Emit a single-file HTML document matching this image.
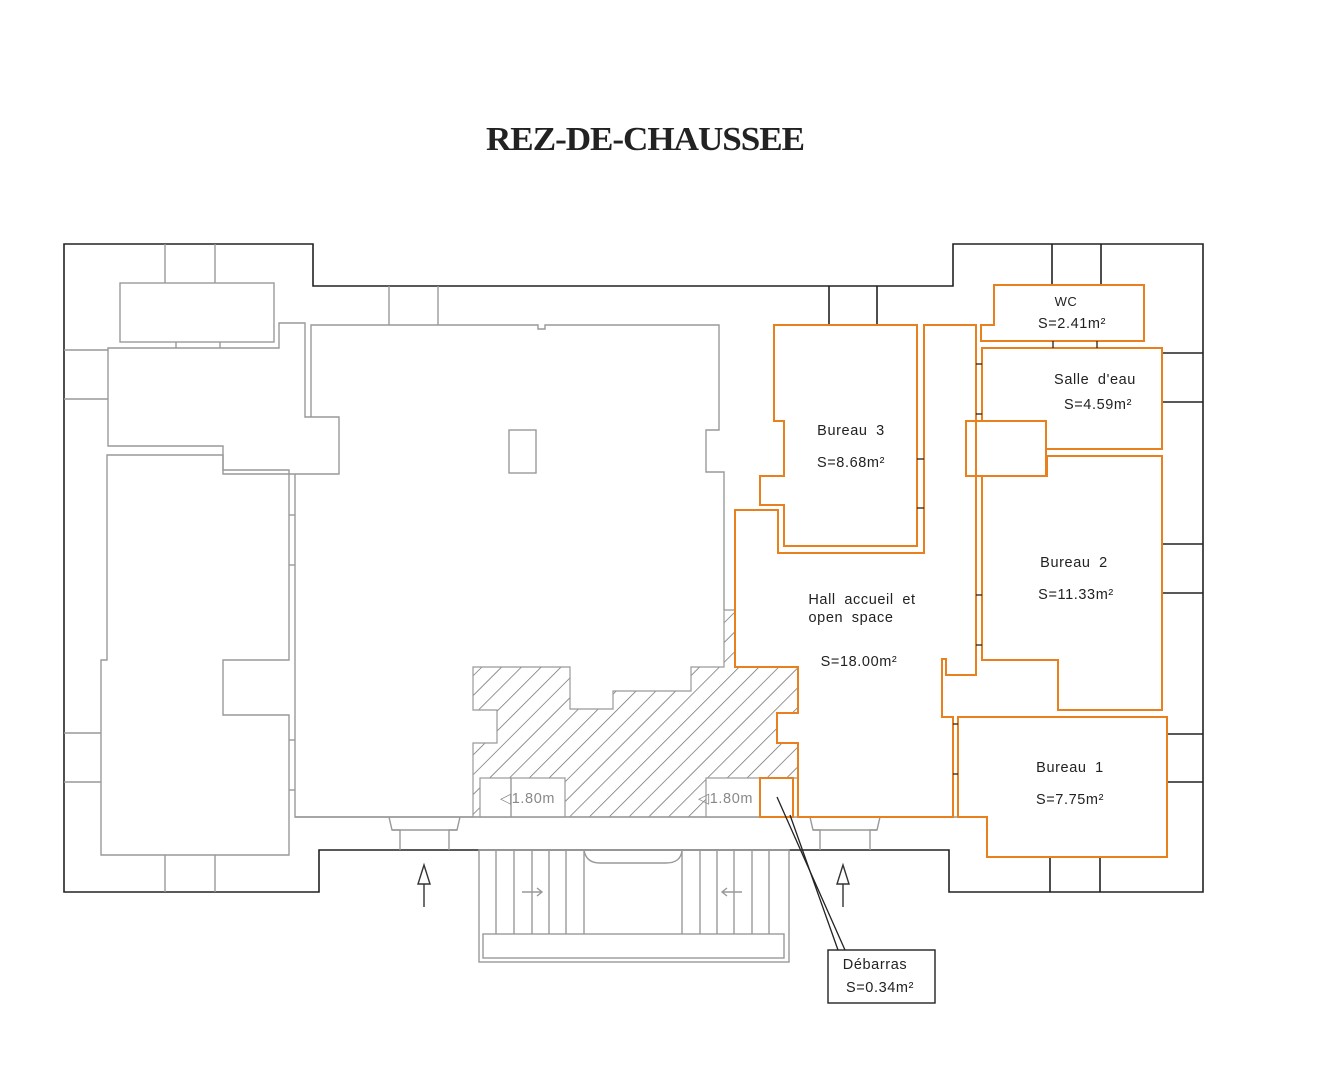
<!DOCTYPE html>
<html><head><meta charset="utf-8"><style>
html,body{margin:0;padding:0;background:#fff;}
svg{display:block;}
.g{fill:none;stroke:#999;stroke-width:1.4}
.k{fill:none;stroke:#222;stroke-width:1.6}
.o{fill:none;stroke:#e8801e;stroke-width:2}
text{font-family:"Liberation Sans",sans-serif;font-size:14.5px;fill:#222;letter-spacing:0.6px;word-spacing:4px}
</style></head><body>
<svg width="1320" height="1075" viewBox="0 0 1320 1075" xmlns="http://www.w3.org/2000/svg">
<defs>
<pattern id="h" patternUnits="userSpaceOnUse" width="14" height="14" patternTransform="rotate(45)">
<line x1="0" y1="0" x2="0" y2="14" stroke="#666" stroke-width="1.4"/>
</pattern>
</defs>
<text x="645" y="150" text-anchor="middle" style="font-family:'Liberation Serif',serif;font-weight:bold;font-size:34px;letter-spacing:-1px;word-spacing:0" textLength="318" lengthAdjust="spacingAndGlyphs">REZ-DE-CHAUSSEE</text>

<!-- outer wall -->
<polygon class="k" points="64,244 313,244 313,286 953,286 953,244 1203,244 1203,892 949,892 949,850 319,850 319,892 64,892"/>
<g class="k">
<line x1="1052" y1="244" x2="1052" y2="285"/><line x1="1101" y1="244" x2="1101" y2="285"/>
<line x1="829" y1="286" x2="829" y2="325"/><line x1="877" y1="286" x2="877" y2="325"/>
<line x1="1163" y1="353" x2="1203" y2="353"/><line x1="1163" y1="402" x2="1203" y2="402"/>
<line x1="1163" y1="544" x2="1203" y2="544"/><line x1="1163" y1="593" x2="1203" y2="593"/>
<line x1="1167" y1="734" x2="1203" y2="734"/><line x1="1167" y1="782" x2="1203" y2="782"/>
<line x1="1050" y1="857" x2="1050" y2="892"/><line x1="1100" y1="857" x2="1100" y2="892"/>
</g>

<!-- hatch -->
<polygon points="473,667 570,667 570,709 613,709 613,691 691,691 691,667 724,667 724,610 735,610 735,667 798,667 798,713 777,713 777,743 798,743 798,778 760,778 760,817 473,817 473,743 497,743 497,710 473,710" fill="url(#h)" stroke="#999" stroke-width="1.2"/>
<rect x="480" y="778" width="85" height="39" fill="#fff" stroke="#999" stroke-width="1.2"/>
<rect x="706" y="778" width="54" height="39" fill="#fff" stroke="#999" stroke-width="1.2"/>
<line x1="511" y1="778" x2="511" y2="817" class="g"/>
<text x="500" y="803" style="fill:#888;word-spacing:0">◁1.80m</text>
<text x="698" y="803" style="fill:#888;word-spacing:0">◁1.80m</text>

<!-- left gray -->
<g class="g">
<line x1="165" y1="244" x2="165" y2="283"/><line x1="215" y1="244" x2="215" y2="283"/>
<rect x="120" y="283" width="154" height="59"/>
<line x1="176" y1="342" x2="176" y2="348"/><line x1="220" y1="342" x2="220" y2="348"/>
<polygon points="108,348 279,348 279,323 305,323 305,417 339,417 339,474 223,474 223,446 108,446"/>
<line x1="64" y1="350" x2="108" y2="350"/><line x1="64" y1="399" x2="108" y2="399"/>
<polygon points="107,455 223,455 223,470 289,470 289,660 223,660 223,715 289,715 289,855 101,855 101,660 107,660"/>
<line x1="64" y1="733" x2="101" y2="733"/><line x1="64" y1="782" x2="101" y2="782"/>
<line x1="165" y1="855" x2="165" y2="892"/><line x1="215" y1="855" x2="215" y2="892"/>
<line x1="389" y1="286" x2="389" y2="325"/><line x1="438" y1="286" x2="438" y2="325"/>
<polyline points="311,417 311,325 538,325 538,329 545,329 545,325 719,325 719,430 706,430 706,472 724,472 724,610"/>
<polyline points="295,474 295,817 473,817"/>
<line x1="289" y1="515" x2="295" y2="515"/><line x1="289" y1="565" x2="295" y2="565"/>
<line x1="289" y1="740" x2="295" y2="740"/><line x1="289" y1="790" x2="295" y2="790"/>
<rect x="509" y="430" width="27" height="43"/>
<line x1="295" y1="817" x2="958" y2="817"/>
<polyline points="389,817 392,830 400,830 400,850"/><polyline points="460,817 457,830 449,830 449,850"/>
<line x1="392" y1="830" x2="457" y2="830"/>
<polyline points="810,817 813,830 820,830 820,850"/><polyline points="880,817 877,830 870,830 870,850"/>
<line x1="813" y1="830" x2="877" y2="830"/>
<!-- stairs -->
<rect x="479" y="850" width="310" height="112"/>
<rect x="483" y="934" width="301" height="24"/>
<line x1="496" y1="850" x2="496" y2="934"/><line x1="514" y1="850" x2="514" y2="934"/>
<line x1="532" y1="850" x2="532" y2="934"/><line x1="549" y1="850" x2="549" y2="934"/>
<line x1="566" y1="850" x2="566" y2="934"/><line x1="584" y1="850" x2="584" y2="934"/>
<line x1="682" y1="850" x2="682" y2="934"/><line x1="700" y1="850" x2="700" y2="934"/>
<line x1="717" y1="850" x2="717" y2="934"/><line x1="734" y1="850" x2="734" y2="934"/>
<line x1="752" y1="850" x2="752" y2="934"/><line x1="769" y1="850" x2="769" y2="934"/>
<path d="M584,850 Q586,863 600,863 L666,863 Q681,863 682,850"/>
<path d="M522,892 H542 M537,888 L542,892 L537,896"/>
<path d="M722,892 H742 M727,888 L722,892 L727,896"/>
</g>
<!-- up arrows -->
<g fill="none" stroke="#333" stroke-width="1.4">
<line x1="424" y1="907" x2="424" y2="884"/><polygon points="418,884 430,884 424,865"/>
<line x1="843" y1="907" x2="843" y2="884"/><polygon points="837,884 849,884 843,865"/>
</g>

<!-- orange rooms -->
<g class="o">
<polygon points="774,325 917,325 917,546 784,546 784,505 760,505 760,476 784,476 784,421 774,421"/>
<polygon points="735,510 778,510 778,553 924,553 924,325 976,325 976,675 946,675 946,659 942,659 942,717 953,717 953,817 798,817 798,778 798,743 777,743 777,713 798,713 798,667 735,667"/>
<polygon points="994,285 1144,285 1144,341 981,341 981,325 994,325"/>
<polygon points="982,348 1162,348 1162,449 1046,449 1046,421 982,421"/>
<polygon points="966,421 1046,421 1046,476 966,476"/>
<polygon points="1047,476 1047,456 1162,456 1162,710 1058,710 1058,660 982,660 982,476"/>
<polygon points="958,717 1167,717 1167,857 987,857 987,817 958,817"/>
<rect x="760" y="778" width="33" height="39"/>
</g>
<g stroke="#222" stroke-width="1.3">
<line x1="917" y1="459" x2="924" y2="459"/><line x1="917" y1="508" x2="924" y2="508"/>
<line x1="976" y1="364" x2="982" y2="364"/><line x1="976" y1="414" x2="982" y2="414"/>
<line x1="976" y1="595" x2="982" y2="595"/><line x1="976" y1="645" x2="982" y2="645"/>
<line x1="953" y1="724" x2="958" y2="724"/><line x1="953" y1="774" x2="958" y2="774"/>
<line x1="1053" y1="341" x2="1053" y2="348"/><line x1="1097" y1="341" x2="1097" y2="348"/>
<line x1="777" y1="797" x2="845" y2="950"/><line x1="790" y1="815" x2="838" y2="950"/>
</g>
<rect x="828" y="950" width="107" height="53" fill="#fff" stroke="#222" stroke-width="1.4"/>

<!-- labels -->
<text x="1066" y="306" text-anchor="middle" style="font-size:13px">WC</text>
<text x="1072" y="328" text-anchor="middle">S=2.41m²</text>
<text x="1095" y="384" text-anchor="middle">Salle d'eau</text>
<text x="1098" y="409" text-anchor="middle">S=4.59m²</text>
<text x="851" y="435" text-anchor="middle">Bureau 3</text>
<text x="851" y="467" text-anchor="middle">S=8.68m²</text>
<text x="1074" y="567" text-anchor="middle">Bureau 2</text>
<text x="1076" y="599" text-anchor="middle">S=11.33m²</text>
<text x="862" y="604" text-anchor="middle">Hall accueil et</text>
<text x="851" y="622" text-anchor="middle">open space</text>
<text x="859" y="666" text-anchor="middle">S=18.00m²</text>
<text x="1070" y="772" text-anchor="middle">Bureau 1</text>
<text x="1070" y="804" text-anchor="middle">S=7.75m²</text>
<text x="875" y="969" text-anchor="middle">Débarras</text>
<text x="880" y="992" text-anchor="middle">S=0.34m²</text>
</svg>
</body></html>
